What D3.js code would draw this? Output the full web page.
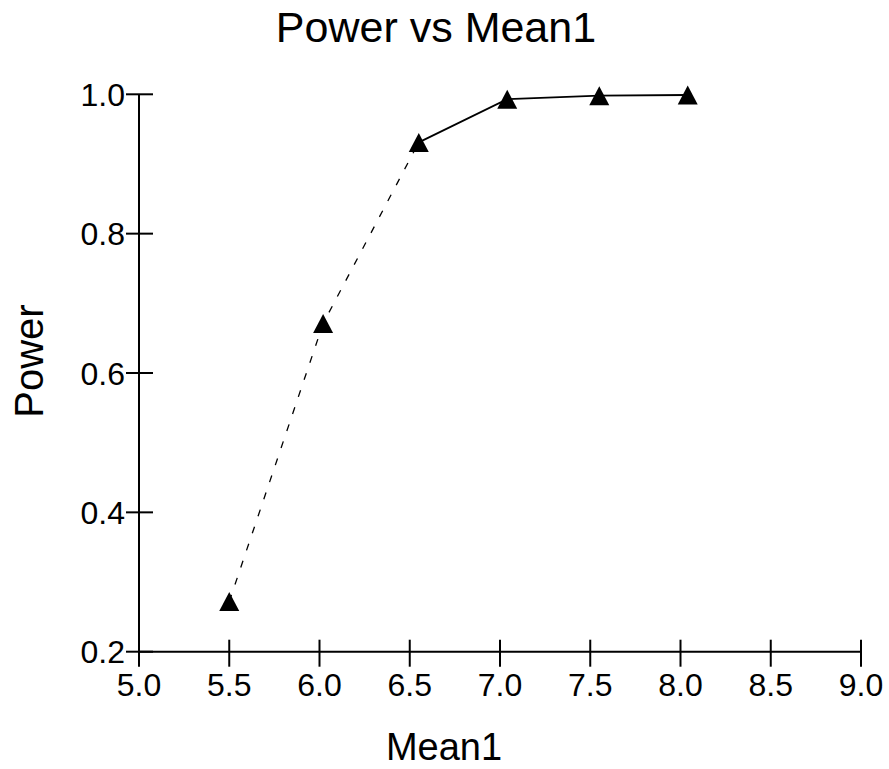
<!DOCTYPE html>
<html>
<head>
<meta charset="utf-8">
<script src="https://cdn.jsdelivr.net/npm/d3@7"></script>
<style>
  html, body { margin: 0; padding: 0; background: #fff; }
  svg { display: block; }
  text { font-family: "Liberation Sans", Arial, Helvetica, sans-serif; fill: #000; }
</style>
</head>
<body>
<svg id="chart" width="889" height="769"></svg>
<script>
// Data
const mean1 = [5.5, 6.02, 6.55, 7.04, 7.55, 8.04];
const power = [0.272, 0.671, 0.931, 0.993, 0.998, 0.999];
const xTicks = [5.0, 5.5, 6.0, 6.5, 7.0, 7.5, 8.0, 8.5, 9.0];
const yTicks = [0.2, 0.4, 0.6, 0.8, 1.0];
const titleText = "Power vs Mean1";
const xTitle = "Mean1";
const yTitle = "Power";

const svg = d3.select("#chart");
const x = d3.scaleLinear().domain([5, 9]).range([139, 861]);
const y = d3.scaleLinear().domain([0.2, 1.0]).range([651.7, 94.3]);

// Title
svg.append("text").attr("x", 436).attr("y", 42).attr("text-anchor", "middle")
  .attr("font-size", 43).text(titleText);

// Axes lines
const g = svg.append("g");
g.append("line").attr("x1", x(5)).attr("x2", x(5)).attr("y1", y(1.0)).attr("y2", y(0.2))
  .attr("stroke", "#000").attr("stroke-width", 2);
g.append("line").attr("x1", x(5)).attr("x2", x(9)).attr("y1", y(0.2)).attr("y2", y(0.2))
  .attr("stroke", "#000").attr("stroke-width", 2);

// Y ticks (crossing)
yTicks.forEach(v => {
  g.append("line").attr("x1", x(5) - 13).attr("x2", x(5) + 14)
    .attr("y1", y(v)).attr("y2", y(v)).attr("stroke", "#000").attr("stroke-width", 2);
  g.append("text").attr("x", x(5) - 14).attr("y", y(v)).attr("dy", "0.36em")
    .attr("text-anchor", "end").attr("font-size", 32).text(d3.format(".1f")(v));
});
// X ticks (crossing)
xTicks.forEach(v => {
  g.append("line").attr("x1", x(v)).attr("x2", x(v))
    .attr("y1", y(0.2) - 12).attr("y2", y(0.2) + 15).attr("stroke", "#000").attr("stroke-width", 2);
  g.append("text").attr("x", x(v)).attr("y", 696).attr("text-anchor", "middle")
    .attr("font-size", 32).text(d3.format(".1f")(v));
});

// Axis titles
svg.append("text").attr("x", 444).attr("y", 760).attr("text-anchor", "middle")
  .attr("font-size", 38).text(xTitle);
svg.append("text").attr("transform", "translate(43,361) rotate(-90)")
  .attr("text-anchor", "middle").attr("font-size", 40).text(yTitle);

// Line segments
const pts = mean1.map((m, i) => [m, power[i]]);
const line = d3.line().x(d => x(d[0])).y(d => y(d[1]));
svg.append("path").datum(pts.slice(0, 3)).attr("d", line)
  .attr("fill", "none").attr("stroke", "#000").attr("stroke-width", 1.3)
  .attr("stroke-dasharray", "7,11");
svg.append("path").datum(pts.slice(2)).attr("d", line)
  .attr("fill", "none").attr("stroke", "#000").attr("stroke-width", 1.8);

// Triangle markers centered on bounding box
const tw = 20, th = 19;
svg.append("g").selectAll("path").data(pts).join("path")
  .attr("d", d => {
    const cx = x(d[0]), cy = y(d[1]);
    return `M${cx},${cy - th/2}L${cx + tw/2},${cy + th/2}L${cx - tw/2},${cy + th/2}Z`;
  })
  .attr("fill", "#000");
</script>
</body>
</html>
